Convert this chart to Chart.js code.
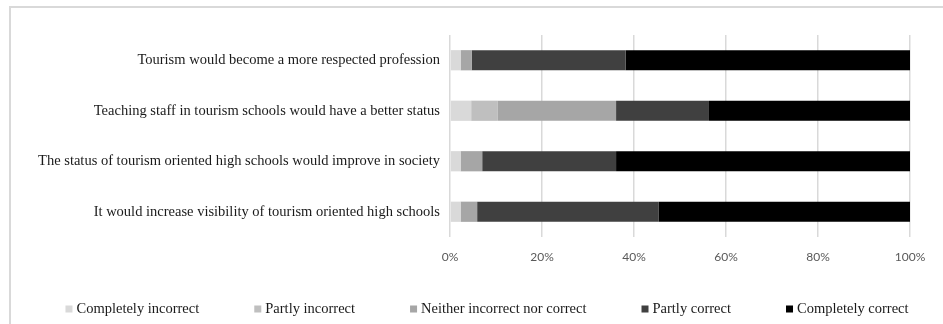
<!DOCTYPE html>
<html>
<head>
<meta charset="utf-8">
<script src="https://cdn.jsdelivr.net/npm/chart.js@4.4.0/dist/chart.umd.min.js"></script>
<style>
  html, body { margin: 0; padding: 0; background: #fff; overflow: hidden; }
  #frame { position: absolute; left: 9px; top: 6px; width: 1100px; height: 500px; border: 2px solid #d9d9d9; }
  #chartBox { position: absolute; left: 0; top: 0; width: 943px; height: 324px; }
</style>
</head>
<body>
<div id="frame"></div>
<div id="chartBox"><canvas id="myChartViews" width="943" height="324"></canvas></div>
<script>
// Statements (y axis)
const statements = [
    'Tourism would become a more respected profession',
    'Teaching staff in tourism schools would have a better status',
    'The status of tourism oriented high schools would improve in society',
    'It would increase visibility of tourism oriented high schools'
];
const answerNames = ['Completely incorrect', 'Partly incorrect', 'Neither incorrect nor correct', 'Partly correct', 'Completely correct'];
const answerColors = ['#d9d9d9', '#bfbfbf', '#a6a6a6', '#404040', '#000000'];

// share of answers in %, one value per statement
const completelyIncorrect = [2.3, 4.6, 2.3, 2.3];
const partlyIncorrect = [0, 5.7, 0, 0];
const neitherNor = [2.4, 25.8, 4.7, 3.6];
const partlyCorrect = [33.5, 20.2, 29.1, 39.5];
const completelyCorrect = [61.8, 43.7, 63.9, 54.6];

const xTickLabels = ['0%', '20%', '40%', '60%', '80%', '100%'];

const answerValues = [completelyIncorrect, partlyIncorrect, neitherNor, partlyCorrect, completelyCorrect];

// legend drawn under the chart (own spacing, like the excel one)
const bottomLegend = {
    id: 'bottomLegend',
    afterDraw(chart) {
        const ctx = chart.ctx;
        const sets = chart.data.datasets;
        ctx.save();
        ctx.font = '14.5px "Liberation Serif"';
        ctx.textBaseline = 'middle';
        const box = 7, gapText = 4, gapItem = 55;
        let total = 0;
        sets.forEach((ds, i) => {
            total += box + gapText + ctx.measureText(ds.label).width;
            if (i < sets.length - 1) total += gapItem;
        });
        let x = 487 - total / 2;
        const y = 309;
        sets.forEach(ds => {
            ctx.fillStyle = ds.backgroundColor;
            ctx.fillRect(x, y - box / 2, box, box);
            x += box + gapText;
            ctx.fillStyle = '#1a1a1a';
            ctx.fillText(ds.label, x, y);
            x += ctx.measureText(ds.label).width + gapItem;
        });
        ctx.restore();
    }
};

const dataViews = {
    labels: statements,
    datasets: answerNames.map((name, i) => ({
        label: name,
        data: answerValues[i],
        backgroundColor: answerColors[i],
        borderWidth: 0,
        categoryPercentage: 0.4,
        barPercentage: 1
    }))
};

const configViews = {
    type: 'bar',
    data: dataViews,
    options: {
        indexAxis: 'y',
        responsive: false,
        animation: false,
        layout: { padding: { top: 35, right: 33, bottom: 60, left: 0 } },
        plugins: {
            legend: { display: false },
            tooltip: { enabled: false }
        },
        scales: {
            x: {
                stacked: true,
                min: 0,
                max: 100,
                ticks: {
                    stepSize: 20,
                    padding: 13,
                    color: '#595959',
                    font: { family: 'Lato', size: 12 },
                    callback: (v, i) => xTickLabels[i]
                },
                grid: { color: '#d9d9d9', lineWidth: 1.5, drawTicks: false },
                border: { display: false },
                afterFit: (scale) => { scale.height = 27; }
            },
            y: {
                stacked: true,
                ticks: {
                    autoSkip: false,
                    padding: 10,
                    color: '#1a1a1a',
                    font: { family: 'Liberation Serif', size: 14.5 }
                },
                grid: { display: false, drawTicks: false },
                border: { display: false },
                afterFit: (scale) => { scale.width = 450; }
            }
        }
    },
    plugins: [bottomLegend]
};

let myChartViews = new Chart(document.getElementById('myChartViews'), configViews);
</script>
</body>
</html>
